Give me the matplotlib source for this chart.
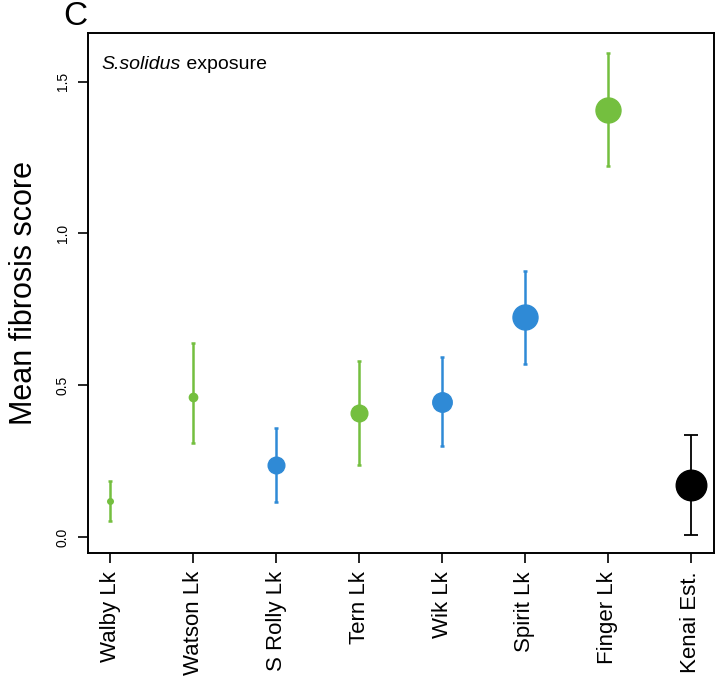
import matplotlib
matplotlib.use('Agg')
from matplotlib import pyplot as plt

plt.rcParams['font.family'] = ['Liberation Sans', 'DejaVu Sans']

lakes = ['Walby Lk', 'Watson Lk', 'S Rolly Lk', 'Tern Lk', 'Wik Lk', 'Spirit Lk', 'Finger Lk', 'Kenai Est.']
means = [0.117, 0.461, 0.238, 0.408, 0.445, 0.723, 1.405, 0.172]
lower = [0.053, 0.308, 0.116, 0.238, 0.301, 0.571, 1.223, 0.007]
upper = [0.185, 0.639, 0.359, 0.580, 0.594, 0.875, 1.593, 0.337]
colors = ['#74bf3f', '#74bf3f', '#2f8ad6', '#74bf3f', '#2f8ad6', '#2f8ad6', '#74bf3f', '#000000']
msizes = [4, 6, 12, 12, 14, 18, 18, 22]
yticks = [0.0, 0.5, 1.0, 1.5]

fig = plt.figure(figsize=(7.19, 6.87), dpi=100)
ax = fig.add_axes([0.1224, 0.195, 0.8706, 0.757])

for i in range(len(lakes)):
    x = i + 1
    black = colors[i] == '#000000'
    cap = 5 if black else 1.5
    lw = 1.3 if black else 1.8
    ax.errorbar([x], [means[i]],
                yerr=[[means[i] - lower[i]], [upper[i] - means[i]]],
                fmt='o', color=colors[i], ms=msizes[i], elinewidth=lw,
                capsize=cap, capthick=lw, mec=colors[i])

ax.set_xlim(0.73, 8.28)
ax.set_ylim(-0.053, 1.66)
ax.set_xticks(range(1, len(lakes) + 1))
ax.set_xticklabels(lakes, rotation=90, fontsize=16)
ax.set_yticks(yticks)
ax.set_yticklabels(['%.1f' % v for v in yticks], rotation=90, fontsize=10, va='center')
ax.tick_params(direction='out', length=7, width=1.2, pad=6)
for s in ax.spines.values():
    s.set_linewidth(1.4)

ax.set_ylabel('Mean fibrosis score', fontsize=22, labelpad=12)
t1 = ax.text(0.022, 0.955, 'S.solidus', transform=ax.transAxes, style='italic',
             fontsize=14, va='top', ha='left')
ax.annotate(' exposure', xy=(1, 0), xycoords=t1, fontsize=14, va='bottom', ha='left')
fig.text(0.088, 0.998, 'C', fontsize=24, va='top', ha='left')

plt.savefig('out.png', dpi=100)
